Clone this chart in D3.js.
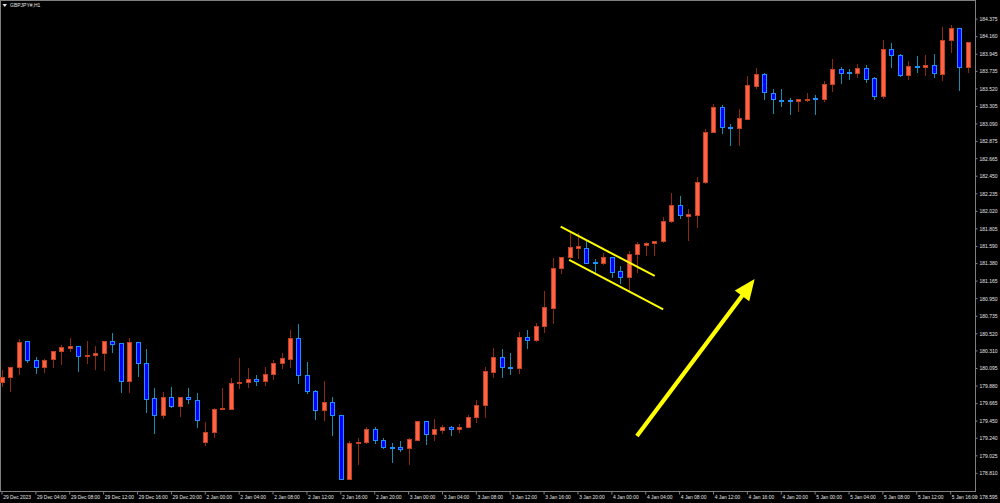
<!DOCTYPE html>
<html><head><meta charset="utf-8">
<script src="https://cdn.jsdelivr.net/npm/d3@7"></script>
<style>html,body{margin:0;padding:0;background:#000;overflow:hidden}svg{display:block}</style>
</head><body>
<svg id="chart" width="1000" height="503"></svg>
<script>
// ---------- DATA ----------
const symbolTitle = "GBPJPY#,H1";
const days = ["29 Dec","2 Jan","3 Jan","4 Jan","5 Jan"];
const hoursPerDay = [24,24,24,24,19];
const times = [];
days.forEach((d,k)=>{ for(let h=0;h<hoursPerDay[k];h++) times.push(d+" "+String(h).padStart(2,"0")+":00"); });

const open = [179.920,179.985,180.104,180.426,180.189,180.111,180.205,180.300,180.344,180.368,
180.238,180.258,180.275,180.426,180.398,179.932,180.410,180.160,179.724,179.523,
179.736,179.633,179.743,179.707,179.192,179.307,179.589,179.596,179.911,179.923,
179.960,179.939,180.021,180.153,180.209,180.459,180.009,179.817,179.577,179.679,
179.515,178.739,179.172,179.188,179.348,179.213,179.131,179.127,179.115,179.213,
179.446,179.286,179.335,179.369,179.344,179.372,179.495,179.638,180.050,180.226,
180.111,180.099,180.471,180.438,180.609,180.830,181.316,181.455,181.565,181.565,
181.393,181.378,181.451,181.283,181.206,181.495,181.598,181.623,181.645,181.892,
182.088,181.962,181.975,182.370,182.984,183.289,183.051,183.039,183.150,183.550,
183.693,183.468,183.382,183.378,183.360,183.374,183.402,183.390,183.575,183.754,
183.724,183.712,183.770,183.643,183.423,184.006,183.930,183.684,183.795,183.777,
183.803,183.700,184.113,184.256,183.786];
const high = [180.070,180.111,180.447,180.430,180.230,180.200,180.300,180.380,180.462,180.370,
180.426,180.368,180.430,180.520,180.400,180.462,180.412,180.328,179.854,179.805,
179.862,179.740,179.846,179.785,179.430,179.609,179.854,179.976,180.214,180.091,
180.009,180.104,180.193,180.275,180.560,180.634,180.172,179.820,179.939,179.743,
179.520,179.204,179.241,179.376,179.376,179.234,179.172,179.204,179.234,179.446,
179.446,179.467,179.393,179.384,179.409,179.519,179.699,180.107,180.340,180.331,
180.282,180.536,180.560,180.650,181.038,181.446,181.455,181.745,181.745,181.663,
181.427,181.500,181.455,181.344,181.532,181.635,181.635,181.654,181.948,182.242,
182.202,182.043,182.431,183.026,183.329,183.313,183.084,183.271,183.672,183.766,
183.705,183.509,183.513,183.402,183.390,183.467,183.439,183.611,183.880,183.786,
183.754,183.823,183.807,183.663,184.117,184.073,183.941,183.852,183.917,183.926,
183.941,184.272,184.297,184.260,184.092];
const low = [179.874,179.817,180.018,180.172,180.030,180.050,180.104,180.144,180.300,180.062,
180.160,180.086,180.070,180.295,179.805,179.805,179.997,179.552,179.295,179.486,
179.621,179.507,179.670,179.369,179.152,179.253,179.589,179.596,179.854,179.866,
179.890,179.883,179.957,180.099,180.104,179.915,179.792,179.466,179.458,179.274,
178.731,178.730,178.919,179.180,179.180,179.119,178.947,179.082,178.915,179.213,
179.164,179.213,179.295,179.271,179.311,179.372,179.437,179.498,179.981,179.981,
180.018,180.030,180.340,180.429,180.540,180.650,181.255,181.446,181.439,181.378,
181.246,181.366,181.213,181.133,181.030,181.275,181.476,181.483,181.640,181.884,
181.936,181.663,181.819,182.360,182.980,182.970,182.830,182.830,183.150,183.529,
183.394,183.215,183.304,183.210,183.247,183.360,183.210,183.360,183.487,183.590,
183.635,183.663,183.602,183.387,183.399,183.786,183.676,183.631,183.715,183.684,
183.663,183.623,183.970,183.499,183.715];
const close = [179.988,180.104,180.417,180.189,180.111,180.197,180.300,180.349,180.364,180.246,
180.254,180.279,180.426,180.393,179.932,180.410,180.160,179.719,179.515,179.736,
179.629,179.736,179.712,179.454,179.307,179.589,179.601,179.915,179.927,179.960,
179.939,180.021,180.160,180.214,180.466,180.009,179.813,179.577,179.675,179.519,
178.739,179.172,179.192,179.348,179.209,179.127,179.119,179.106,179.221,179.446,
179.286,179.344,179.369,179.344,179.376,179.495,179.638,180.055,180.226,180.104,
180.099,180.471,180.438,180.609,180.839,181.316,181.455,181.581,181.589,181.378,
181.378,181.455,181.275,181.206,181.495,181.610,181.623,181.654,181.892,182.088,
181.966,181.981,182.370,182.986,183.289,183.051,183.039,183.161,183.558,183.693,
183.476,183.390,183.371,183.362,183.390,183.390,183.390,183.578,183.754,183.712,
183.712,183.770,183.635,183.427,184.006,183.926,183.684,183.791,183.779,183.803,
183.705,184.113,184.256,183.779,184.092];

const priceTicks = [184.375,184.160,183.945,183.735,183.520,183.305,183.090,182.875,182.665,182.450,
182.235,182.020,181.805,181.590,181.380,181.165,180.950,180.735,180.520,180.310,
180.095,179.880,179.665,179.450,179.240,179.025,178.810,178.595];
const timeTickLabels = ["29 Dec 2023","29 Dec 04:00","29 Dec 08:00","29 Dec 12:00","29 Dec 16:00","29 Dec 20:00",
"2 Jan 00:00","2 Jan 04:00","2 Jan 08:00","2 Jan 12:00","2 Jan 16:00","2 Jan 20:00",
"3 Jan 00:00","3 Jan 04:00","3 Jan 08:00","3 Jan 12:00","3 Jan 16:00","3 Jan 20:00",
"4 Jan 00:00","4 Jan 04:00","4 Jan 08:00","4 Jan 12:00","4 Jan 16:00","4 Jan 20:00",
"5 Jan 00:00","5 Jan 04:00","5 Jan 08:00","5 Jan 12:00","5 Jan 16:00"];

// annotations in (bar index, price)
const channelLines = [
  {i1:65.9, p1:181.826, i2:77.0, p2:181.222},
  {i1:66.9, p1:181.418, i2:78.0, p2:180.814}
];
const trendArrow = {i1:74.9, p1:179.262, i2:88.8, p2:181.185};

// ---------- CHART ----------
const svg = d3.select("#chart");
svg.append("rect").attr("width",1000).attr("height",503).attr("fill","#000");

const plotRight = 975.5, plotBottom = 491;
const x = d3.scaleLinear().domain([0, times.length-1]).range([2.5, 968.1]);
const y = d3.scaleLinear().domain([178.588, 184.603]).range([plotBottom, 0]);

const FONT = "'Liberation Sans', Arial, sans-serif";
const TXT = "#e4e4e4";
const GRID = "#808080";

// frame
svg.append("path")
  .attr("d", `M0.5,${plotBottom+0.5}V0.5H${plotRight}V${plotBottom+0.5}H0.5`)
  .attr("fill","none").attr("stroke",GRID).attr("stroke-width",1)
  .attr("shape-rendering","crispEdges");

// candles
const bars = times.map((t,i)=>({t, i, o:open[i], h:high[i], l:low[i], c:close[i]}));
const bull = {fill:"#ff6347", stroke:"#c2411f", wick:"#8e2a0c"};
const bear = {fill:"#0000ff", stroke:"#1e90ff", wick:"#1b8cae"};

const cg = svg.append("g").attr("shape-rendering","crispEdges");
bars.forEach(b=>{
  const st = b.c >= b.o ? bull : bear;
  const left = Math.round(x(b.i) - 2.5) + 0.5;
  const wx = left + 2;
  cg.append("line")
    .attr("x1",wx).attr("x2",wx)
    .attr("y1",Math.round(y(b.h))).attr("y2",Math.round(y(b.l))+1)
    .attr("stroke",st.wick).attr("stroke-width",1);
  const top = Math.round(y(Math.max(b.o,b.c))) + 0.5;
  const bot = Math.round(y(Math.min(b.o,b.c))) + 0.5;
  cg.append("rect")
    .attr("x",left).attr("y",top)
    .attr("width",4).attr("height",Math.max(bot-top,0))
    .attr("fill",st.fill).attr("stroke",st.stroke).attr("stroke-width",1);
});

// annotations
channelLines.forEach(l=>{
  svg.append("line")
    .attr("x1",x(l.i1)).attr("y1",y(l.p1)).attr("x2",x(l.i2)).attr("y2",y(l.p2))
    .attr("stroke","#ffff00").attr("stroke-width",2);
});
(function(){
  const ax1=x(trendArrow.i1), ay1=y(trendArrow.p1), ax2=x(trendArrow.i2), ay2=y(trendArrow.p2);
  const ang=Math.atan2(ay2-ay1, ax2-ax1);
  const headLen=21, halfW=9;
  const bx=ax2-headLen*Math.cos(ang), by=ay2-headLen*Math.sin(ang);
  svg.append("line").attr("x1",ax1).attr("y1",ay1).attr("x2",bx+2*Math.cos(ang)).attr("y2",by+2*Math.sin(ang))
    .attr("stroke","#ffff00").attr("stroke-width",4.2);
  const pts=[[ax2,ay2],[bx-halfW*Math.sin(ang), by+halfW*Math.cos(ang)],[bx+halfW*Math.sin(ang), by-halfW*Math.cos(ang)]];
  svg.append("polygon").attr("points",pts.map(p=>p.join(",")).join(" ")).attr("fill","#ffff00");
})();

// y axis
const yAxis = d3.axisRight(y).tickValues(priceTicks).tickFormat(d3.format(".3f"))
  .tickSize(2).tickPadding(2).tickSizeOuter(0);
const gy = svg.append("g").attr("transform",`translate(${plotRight},0)`).call(yAxis);
gy.select(".domain").remove();
gy.selectAll(".tick line").attr("stroke",GRID);
gy.selectAll(".tick text").attr("fill",TXT).attr("font-family",FONT).attr("font-size","5px").attr("dy","0.36em");
gy.selectAll(".tick").filter(d=>y(d) > plotBottom-4).attr("transform",d=>`translate(0,${y(d)+6.5})`);

// x axis
const xTickIdx = timeTickLabels.map((_,k)=>k*4);
const xAxis = d3.axisBottom(x).tickValues(xTickIdx).tickFormat((d,k)=>timeTickLabels[k])
  .tickSize(3).tickPadding(0.8).tickSizeOuter(0);
const gx = svg.append("g").attr("transform",`translate(-1,${plotBottom+0.5})`).call(xAxis);
gx.select(".domain").remove();
gx.selectAll(".tick line").attr("stroke",GRID);
gx.selectAll(".tick text").attr("fill",TXT).attr("font-family",FONT).attr("font-size","4.9px")
  .attr("text-anchor","start").attr("x",1.2);

// title
svg.append("path").attr("d","M2.5,4 L7,4 L4.75,7 Z").attr("fill","#e8e8e8");
svg.append("text").attr("x",10).attr("y",7.4).attr("fill",TXT).attr("font-family",FONT)
  .attr("font-size","5px").text(symbolTitle);
</script>
</body></html>
